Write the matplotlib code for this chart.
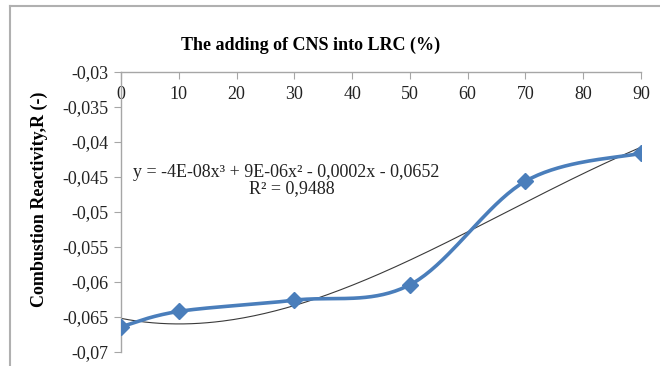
import numpy as np
import matplotlib
matplotlib.use("Agg")
import matplotlib.pyplot as plt
from matplotlib.ticker import FuncFormatter
from matplotlib.lines import Line2D

cns_pct = [0, 10, 30, 50, 70, 90]
reactivity = [-0.0664, -0.0642, -0.0626, -0.0604, -0.0456, -0.0416]
x_ticks = [0, 10, 20, 30, 40, 50, 60, 70, 80, 90]
y_ticks = [-0.07, -0.065, -0.06, -0.055, -0.05, -0.045, -0.04, -0.035, -0.03]

plt.rcParams['font.family'] = ['Liberation Serif', 'DejaVu Serif']

def smooth_curve(xs, ys, n=40):
    # Excel-style smoothed line (cardinal bezier)
    px = np.array(xs, float)
    py = np.array(ys, float)
    out_x, out_y = [], []
    t = np.linspace(0, 1, n)
    for i in range(len(px) - 1):
        i0 = max(i - 1, 0)
        i3 = min(i + 2, len(px) - 1)
        c1x = px[i] + (px[i + 1] - px[i0]) / 6
        c1y = py[i] + (py[i + 1] - py[i0]) / 6
        c2x = px[i + 1] - (px[i3] - px[i]) / 6
        c2y = py[i + 1] - (py[i3] - py[i]) / 6
        bx = (1-t)**3*px[i] + 3*(1-t)**2*t*c1x + 3*(1-t)*t**2*c2x + t**3*px[i+1]
        by = (1-t)**3*py[i] + 3*(1-t)**2*t*c1y + 3*(1-t)*t**2*c2y + t**3*py[i+1]
        out_x.extend(bx)
        out_y.extend(by)
    return out_x, out_y

fig = plt.figure(figsize=(6.6, 3.66), dpi=100)
ax = fig.add_axes([121/660, 1 - 352/366, 520/660, 280/366])

# cubic trendline
coef = np.polyfit(cns_pct, reactivity, 3)
xt = np.linspace(0, 90, 200)
ax.plot(xt, np.polyval(coef, xt), color='#3a3a3a', lw=0.8, zorder=2)

sx, sy = smooth_curve(cns_pct, reactivity)
ax.plot(sx, sy, color='#4a7ebb', lw=2.6, zorder=3)
ax.plot(cns_pct, reactivity, ls='none', marker='D', ms=8, color='#4a7ebb', zorder=4)

ax.set_xlim(0, 90)
ax.set_ylim(-0.07, -0.03)
ax.set_xticks(x_ticks)
ax.set_yticks(y_ticks)
fmt = FuncFormatter(lambda v, p: f"{v:g}".replace('.', ','))
ax.yaxis.set_major_formatter(fmt)

ax.spines['bottom'].set_position(('axes', 1.0))
ax.spines['top'].set_visible(False)
ax.spines['right'].set_visible(False)
for s in ['bottom', 'left']:
    ax.spines[s].set_color('#a6a6a6')
    ax.spines[s].set_linewidth(1.0)
ax.tick_params(axis='both', colors='#a6a6a6', labelcolor='#222222', labelsize=13, length=5)
ax.tick_params(axis='x', pad=5)
ax.tick_params(axis='y', pad=4)

ax.set_title('The adding of CNS into LRC (%)', fontsize=13, fontweight='bold', pad=16, x=0.365)
ax.set_ylabel('Combustion Reactivity,R (-)', fontsize=13, fontweight='bold')
ax.yaxis.set_label_coords(-0.14, 0.545)

ax.text(2.1, -0.0443, 'y = -4E-08x³ + 9E-06x² - 0,0002x - 0,0652', fontsize=13,
        ha='left', va='center', color='#222222')
ax.text(29.6, -0.0467, 'R² = 0,9488', fontsize=13, ha='center', va='center', color='#222222')

# chart border
fig.add_artist(Line2D([10/660, 1], [1 - 6/366, 1 - 6/366], transform=fig.transFigure, color='#b0b0b0', lw=1.5))
fig.add_artist(Line2D([10/660, 10/660], [0, 1 - 6/366], transform=fig.transFigure, color='#b0b0b0', lw=1.5))

fig.savefig('out.png', dpi=100)
